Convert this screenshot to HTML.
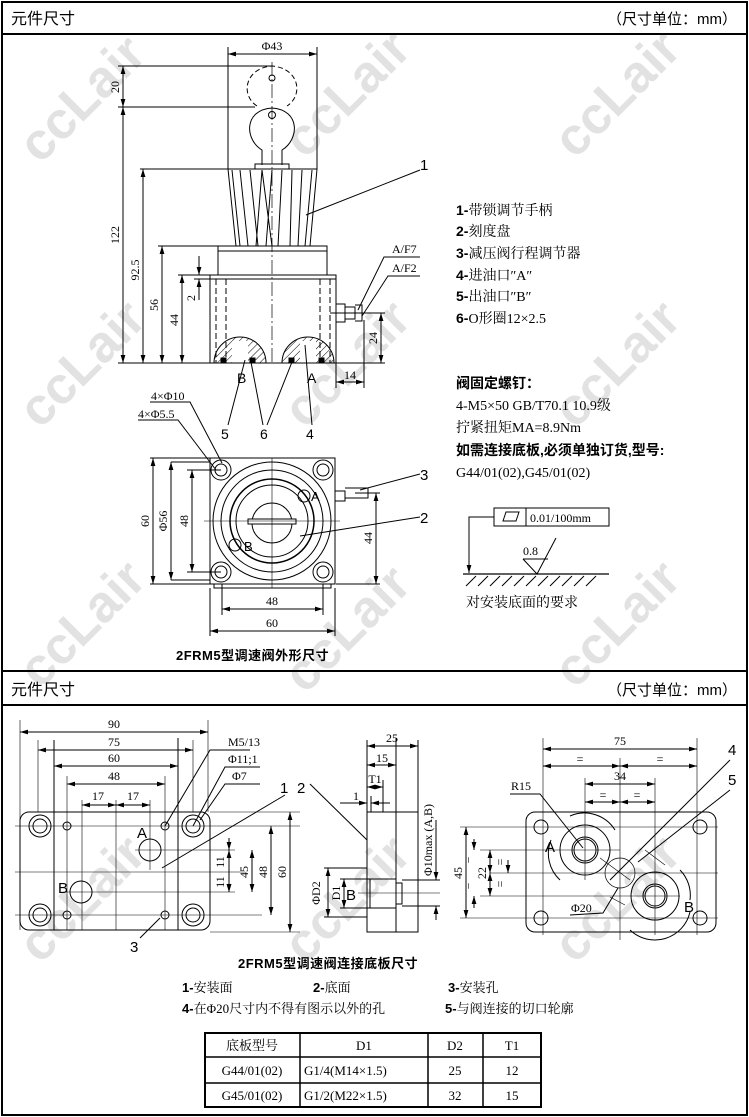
<!DOCTYPE html>
<html><head><meta charset="utf-8"><style>
html,body{margin:0;padding:0;background:#fff}
svg{display:block}
text{font-family:"Liberation Serif","Noto Serif CJK SC",serif;fill:#000}
.s,.s text{font-family:"Liberation Sans","Noto Sans CJK SC",sans-serif}
.wm{font-family:"Liberation Sans",sans-serif;font-weight:bold;font-size:52px;fill:#e2e2e2}
</style></head><body>
<svg width="749" height="1117" viewBox="0 0 749 1117" xmlns="http://www.w3.org/2000/svg">
<defs>
<marker id="ar" viewBox="0 0 10 6" refX="10" refY="3" markerWidth="8" markerHeight="5" orient="auto-start-reverse"><path d="M0,0L10,3L0,6z" fill="#000"/></marker>
<pattern id="hatch" width="5" height="5" patternUnits="userSpaceOnUse" patternTransform="rotate(45)"><line x1="0" y1="0" x2="0" y2="5" stroke="#000" stroke-width="1"/></pattern>
</defs>
<g>
<text class="wm" transform="translate(40,165) rotate(-45)">ccLair</text>
<text class="wm" transform="translate(305,160) rotate(-45)">ccLair</text>
<text class="wm" transform="translate(575,160) rotate(-45)">ccLair</text>
<text class="wm" transform="translate(40,430) rotate(-45)">ccLair</text>
<text class="wm" transform="translate(305,430) rotate(-45)">ccLair</text>
<text class="wm" transform="translate(575,430) rotate(-45)">ccLair</text>
<text class="wm" transform="translate(40,690) rotate(-45)">ccLair</text>
<text class="wm" transform="translate(305,695) rotate(-45)">ccLair</text>
<text class="wm" transform="translate(575,690) rotate(-45)">ccLair</text>
<text class="wm" transform="translate(40,965) rotate(-45)">ccLair</text>
<text class="wm" transform="translate(305,965) rotate(-45)">ccLair</text>
<text class="wm" transform="translate(575,965) rotate(-45)">ccLair</text>
</g>
<rect x="2" y="2" width="745" height="1113" fill="none" stroke="#000" stroke-width="2"/>
<line x1="2" y1="34" x2="747" y2="34" stroke="#000" stroke-width="2"/>
<line x1="2" y1="671" x2="747" y2="671" stroke="#000" stroke-width="2"/>
<line x1="2" y1="705" x2="747" y2="705" stroke="#000" stroke-width="2"/>
<text class="s" x="11" y="24" font-size="16">元件尺寸</text>
<text class="s" x="737" y="24" font-size="15" text-anchor="end">（尺寸单位：mm）</text>
<text class="s" x="11" y="695" font-size="16">元件尺寸</text>
<text class="s" x="737" y="695" font-size="15" text-anchor="end">（尺寸单位：mm）</text>

<g stroke="#000" fill="none" stroke-width="1">
<line x1="228" y1="47" x2="228" y2="169"/><line x1="317" y1="47" x2="317" y2="169"/>
<line x1="228" y1="54" x2="317" y2="54" marker-start="url(#ar)" marker-end="url(#ar)"/>
<line x1="272" y1="62" x2="272" y2="365" stroke-dasharray="14,3,2,3" stroke-width="0.7"/>
<path d="M257,106 C240,95 245,68 272,66 C299,68 304,95 287,106" stroke-dasharray="5,3"/>
<circle cx="272" cy="78" r="3"/>
<path d="M262,165 L262,150 C245,140 243,110 272,108 C301,110 299,140 282,150 L282,165"/>
<circle cx="272" cy="115" r="3.5"/>
<rect x="255" y="164" width="34" height="5"/>
<path d="M228,169 L317,169 L310,246 L236,246 Z"/>
<path d="M232,170 L240,246 M240,170 L248,246 M250,170 L258,246 M262,170 L256,246 M272,170 L266,246 M282,170 L278,246 M292,170 L290,246 M302,170 L298,246 M312,170 L305,246 M262,170 L272,246"/>
<rect x="218" y="246" width="109" height="29"/>
<line x1="218" y1="251" x2="327" y2="251"/>
<rect x="210" y="275" width="126" height="88"/>
<line x1="210" y1="279" x2="336" y2="279"/>
<line x1="216" y1="279" x2="216" y2="363" stroke-dasharray="6,3"/>
<line x1="226" y1="279" x2="226" y2="363" stroke-dasharray="6,3"/>
<line x1="320" y1="279" x2="320" y2="363" stroke-dasharray="6,3"/>
<line x1="330" y1="279" x2="330" y2="363" stroke-dasharray="6,3"/>
<path d="M214,363 A26,26 0 0 1 266,363 Z" fill="url(#hatch)"/>
<path d="M282,363 A26,26 0 0 1 334,363 Z" fill="url(#hatch)"/>
<rect x="232" y="341" width="16" height="22" fill="#fff" stroke="none"/>
<rect x="300" y="341" width="16" height="22" fill="#fff" stroke="none"/>
<rect x="221" y="358" width="5" height="5" fill="#000"/><rect x="250" y="358" width="5" height="5" fill="#000"/>
<rect x="289" y="358" width="5" height="5" fill="#000"/><rect x="319" y="358" width="5" height="5" fill="#000"/>
<path d="M336,304 L345,304 L345,322 L336,322 M345,307 L355,307 L355,319 L345,319 M355,305 L362,305 L362,321 L355,321"/>
<line x1="118" y1="66" x2="272" y2="66"/><line x1="118" y1="107" x2="255" y2="107"/>
<line x1="140" y1="169" x2="228" y2="169"/><line x1="158" y1="246" x2="218" y2="246"/>
<line x1="178" y1="275" x2="210" y2="275"/><line x1="118" y1="363" x2="385" y2="363"/>
<line x1="123" y1="66" x2="123" y2="107" marker-start="url(#ar)" marker-end="url(#ar)"/>
<line x1="123" y1="107" x2="123" y2="363" marker-start="url(#ar)" marker-end="url(#ar)"/>
<line x1="143" y1="169" x2="143" y2="363" marker-start="url(#ar)" marker-end="url(#ar)"/>
<line x1="162" y1="246" x2="162" y2="363" marker-start="url(#ar)" marker-end="url(#ar)"/>
<line x1="182" y1="275" x2="182" y2="363" marker-start="url(#ar)" marker-end="url(#ar)"/>
<line x1="199" y1="256" x2="199" y2="275" marker-end="url(#ar)"/><line x1="199" y1="279" x2="199" y2="300" marker-start="url(#ar)"/>
<line x1="194" y1="279" x2="210" y2="279"/>
<line x1="330" y1="313" x2="385" y2="313"/>
<line x1="381" y1="313" x2="381" y2="363" marker-start="url(#ar)" marker-end="url(#ar)"/>
<line x1="336" y1="363" x2="336" y2="388"/><line x1="364" y1="320" x2="364" y2="388"/>
<line x1="336" y1="382" x2="364" y2="382" marker-start="url(#ar)" marker-end="url(#ar)"/>
<path d="M358,310 L384,257 L420,257 M362,316 L388,276 L420,276"/>
<path d="M306,215 L420,170"/>
<path d="M245,360 L228,425 M251,362 L263,425 M292,362 L267,425 M305,345 L312,425"/>
<path d="M150,402 L190,402 L222,463 M138,420 L178,420 L216,470"/>

<rect x="210" y="458" width="125" height="126"/>
<rect x="214" y="584" width="117" height="4"/>
<circle cx="221" cy="470" r="10"/><circle cx="221" cy="470" r="6"/>
<circle cx="323" cy="470" r="10"/><circle cx="323" cy="470" r="6"/>
<circle cx="221" cy="572" r="10"/><circle cx="221" cy="572" r="6"/>
<circle cx="323" cy="572" r="10"/><circle cx="323" cy="572" r="6"/>
<circle cx="272" cy="521" r="59"/><circle cx="272" cy="521" r="51"/>
<circle cx="272" cy="521" r="42" stroke-width="1.5"/>
<circle cx="272" cy="521" r="36"/>
<circle cx="272" cy="523" r="20"/>
<rect x="248" y="519" width="48" height="5" fill="#fff"/>
<line x1="204" y1="521" x2="340" y2="521" stroke-width="0.6"/>
<line x1="272" y1="458" x2="272" y2="588" stroke-width="0.6"/>
<path d="M335,491 L345,491 L345,501 L335,501 M345,488 L368,488 L368,498 L345,498"/>
<circle cx="304" cy="496" r="6"/><circle cx="235" cy="545" r="6"/>
<line x1="210" y1="584" x2="150" y2="584"/><line x1="210" y1="458" x2="150" y2="458"/>
<line x1="171" y1="462" x2="210" y2="462"/><line x1="171" y1="580" x2="210" y2="580"/>
<line x1="187" y1="470" x2="221" y2="470"/><line x1="187" y1="572" x2="221" y2="572"/>
<line x1="153" y1="458" x2="153" y2="584" marker-start="url(#ar)" marker-end="url(#ar)"/>
<line x1="171" y1="462" x2="171" y2="580" marker-start="url(#ar)" marker-end="url(#ar)"/>
<line x1="192" y1="470" x2="192" y2="572" marker-start="url(#ar)" marker-end="url(#ar)"/>
<line x1="336" y1="584" x2="380" y2="584"/><line x1="355" y1="493" x2="380" y2="493"/>
<line x1="376" y1="493" x2="376" y2="584" marker-start="url(#ar)" marker-end="url(#ar)"/>
<line x1="222" y1="584" x2="222" y2="615"/><line x1="323" y1="584" x2="323" y2="615"/>
<line x1="210" y1="588" x2="210" y2="636"/><line x1="335" y1="588" x2="335" y2="636"/>
<line x1="222" y1="609" x2="323" y2="609" marker-start="url(#ar)" marker-end="url(#ar)"/>
<line x1="210" y1="631" x2="335" y2="631" marker-start="url(#ar)" marker-end="url(#ar)"/>
<path d="M360,490 L420,474 M300,536 L420,517"/>

<rect x="494" y="508" width="115" height="18"/><line x1="526" y1="508" x2="526" y2="526"/>
<path d="M503,521 L506,512 L519,512 L516,521 Z"/>
<path d="M494,517 L469,517 L469,573" marker-end="url(#ar)"/>
<line x1="463" y1="574" x2="609" y2="574" stroke-width="1.3"/>
<path d="M466,586 L476,576 M478,586 L488,576 M490,586 L500,576 M502,586 L512,576 M514,586 L524,576 M526,586 L536,576 M538,586 L548,576 M550,586 L560,576 M562,586 L572,576 M574,586 L584,576 M586,586 L596,576"/>
<path d="M523,559 L537,574 L556,538 M523,559 L548,559"/>

<rect x="20" y="812" width="190" height="118" rx="9"/>
<line x1="54" y1="740" x2="54" y2="930"/><line x1="178" y1="738" x2="178" y2="930"/>
<circle cx="40" cy="826" r="11"/><circle cx="40" cy="826" r="7"/>
<circle cx="193" cy="826" r="11"/><circle cx="193" cy="826" r="7"/>
<circle cx="40" cy="915" r="11"/><circle cx="40" cy="915" r="7"/>
<circle cx="193" cy="915" r="11"/><circle cx="193" cy="915" r="7"/>
<circle cx="67" cy="826" r="4"/><circle cx="165" cy="826" r="4"/>
<circle cx="67" cy="915" r="4"/><circle cx="165" cy="915" r="4"/>
<circle cx="150" cy="850" r="11"/><circle cx="81" cy="892" r="11"/>
<g stroke-width="0.6">
<line x1="20" y1="720" x2="20" y2="930"/><line x1="208" y1="720" x2="208" y2="812"/>
<line x1="38" y1="740" x2="38" y2="812"/><line x1="193" y1="740" x2="193" y2="812"/>
<line x1="67" y1="776" x2="67" y2="930"/><line x1="165" y1="776" x2="165" y2="930"/>
<line x1="82" y1="800" x2="82" y2="930"/><line x1="116" y1="800" x2="116" y2="930"/><line x1="150" y1="800" x2="150" y2="870"/>
<line x1="15" y1="826" x2="300" y2="826"/><line x1="15" y1="915" x2="262" y2="915"/>
<line x1="15" y1="872" x2="245" y2="872"/><line x1="135" y1="850" x2="235" y2="850"/><line x1="66" y1="892" x2="235" y2="892"/>
<line x1="210" y1="812" x2="300" y2="812"/><line x1="210" y1="932" x2="300" y2="932"/>
</g>
<line x1="20" y1="732" x2="208" y2="732" marker-start="url(#ar)" marker-end="url(#ar)"/>
<line x1="38" y1="750" x2="193" y2="750" marker-start="url(#ar)" marker-end="url(#ar)"/>
<line x1="54" y1="766" x2="178" y2="766" marker-start="url(#ar)" marker-end="url(#ar)"/>
<line x1="67" y1="784" x2="165" y2="784" marker-start="url(#ar)" marker-end="url(#ar)"/>
<line x1="82" y1="805" x2="116" y2="805" marker-start="url(#ar)" marker-end="url(#ar)"/>
<line x1="116" y1="805" x2="150" y2="805" marker-start="url(#ar)" marker-end="url(#ar)"/>
<line x1="229" y1="838" x2="229" y2="850" marker-end="url(#ar)"/><line x1="229" y1="872" x2="229" y2="850" marker-end="url(#ar)"/>
<line x1="229" y1="884" x2="229" y2="892" marker-end="url(#ar)"/><line x1="229" y1="872" x2="229" y2="892" marker-end="url(#ar)"/>
<line x1="252" y1="850" x2="252" y2="892" marker-start="url(#ar)" marker-end="url(#ar)"/>
<line x1="271" y1="826" x2="271" y2="915" marker-start="url(#ar)" marker-end="url(#ar)"/>
<line x1="290" y1="812" x2="290" y2="932" marker-start="url(#ar)" marker-end="url(#ar)"/>
<path d="M165,826 L210,750 L250,750 M193,826 L225,767 L260,767 M200,820 L225,784 L260,784"/>
<path d="M162,868 L285,795 M140,938 L160,918"/>

<rect x="367" y="812" width="51" height="120"/>
<line x1="396" y1="738" x2="396" y2="932"/>
<line x1="367" y1="740" x2="367" y2="812"/><line x1="418" y1="740" x2="418" y2="812"/><line x1="383" y1="780" x2="383" y2="812"/><line x1="371" y1="796" x2="371" y2="812"/>
<line x1="367" y1="746" x2="418" y2="746" marker-start="url(#ar)" marker-end="url(#ar)"/>
<line x1="367" y1="765" x2="396" y2="765" marker-start="url(#ar)" marker-end="url(#ar)"/>
<line x1="367" y1="787" x2="383" y2="787" marker-start="url(#ar)" marker-end="url(#ar)"/>
<line x1="340" y1="803" x2="367" y2="803" marker-end="url(#ar)"/><line x1="390" y1="803" x2="371" y2="803" marker-end="url(#ar)"/>
<rect x="370" y="879" width="26" height="29"/>
<rect x="396" y="883" width="6" height="21"/>
<line x1="324" y1="868" x2="367" y2="868"/><line x1="324" y1="917" x2="367" y2="917"/>
<line x1="340" y1="879" x2="370" y2="879"/><line x1="340" y1="908" x2="370" y2="908"/>
<line x1="358" y1="893" x2="440" y2="893" stroke-width="0.6"/>
<line x1="402" y1="880" x2="440" y2="880"/><line x1="402" y1="906" x2="440" y2="906"/>
<line x1="328" y1="868" x2="328" y2="917" marker-start="url(#ar)" marker-end="url(#ar)"/>
<line x1="344" y1="879" x2="344" y2="908" marker-start="url(#ar)" marker-end="url(#ar)"/>
<line x1="436" y1="820" x2="436" y2="880" marker-end="url(#ar)"/><line x1="436" y1="920" x2="436" y2="906" marker-end="url(#ar)"/>
<path d="M310,784 L367,840"/>

<rect x="526" y="812" width="190" height="120" rx="9"/>
<circle cx="541" cy="827" r="7"/><circle cx="700" cy="827" r="7"/>
<circle cx="541" cy="918" r="7"/><circle cx="700" cy="918" r="7"/>
<circle cx="585" cy="850" r="25"/><circle cx="585" cy="850" r="13"/><circle cx="585" cy="850" r="11"/>
<circle cx="655" cy="896" r="24"/><circle cx="655" cy="896" r="12"/><circle cx="655" cy="896" r="10"/>
<path d="M570,816 A36,36 0 0 1 615,830 M560,880 A36,36 0 0 1 551,840 M630,930 A36,36 0 0 0 690,912 M680,870 A36,36 0 0 1 690,900"/>
<circle cx="620" cy="873" r="15" stroke-width="0.7"/>
<g stroke-width="0.6">
<line x1="543" y1="738" x2="543" y2="935"/><line x1="697" y1="738" x2="697" y2="935"/>
<line x1="620" y1="758" x2="620" y2="940"/><line x1="585" y1="778" x2="585" y2="880"/><line x1="655" y1="778" x2="655" y2="935"/>
<line x1="460" y1="827" x2="718" y2="827"/><line x1="460" y1="918" x2="718" y2="918"/>
<line x1="490" y1="873" x2="718" y2="873"/><line x1="480" y1="850" x2="620" y2="850"/><line x1="480" y1="896" x2="680" y2="896"/>
<path d="M600,858 L630,880 M645,850 L665,865 M610,897 L625,905"/>
</g>
<line x1="543" y1="749" x2="697" y2="749" marker-start="url(#ar)" marker-end="url(#ar)"/>
<line x1="543" y1="766" x2="620" y2="766" marker-start="url(#ar)" marker-end="url(#ar)"/>
<line x1="620" y1="766" x2="697" y2="766" marker-start="url(#ar)" marker-end="url(#ar)"/>
<line x1="585" y1="784" x2="655" y2="784" marker-start="url(#ar)" marker-end="url(#ar)"/>
<line x1="585" y1="802" x2="620" y2="802" marker-start="url(#ar)" marker-end="url(#ar)"/>
<line x1="620" y1="802" x2="655" y2="802" marker-start="url(#ar)" marker-end="url(#ar)"/>
<line x1="466" y1="827" x2="466" y2="918" marker-start="url(#ar)" marker-end="url(#ar)"/>
<line x1="474" y1="839" x2="474" y2="850" marker-end="url(#ar)"/><line x1="474" y1="908" x2="474" y2="896" marker-end="url(#ar)"/>
<line x1="490" y1="850" x2="490" y2="873" marker-start="url(#ar)" marker-end="url(#ar)"/>
<line x1="490" y1="873" x2="490" y2="896" marker-start="url(#ar)" marker-end="url(#ar)"/>
<line x1="508" y1="860" x2="508" y2="873" marker-end="url(#ar)"/>
<path d="M510,794 L540,794 L583,848 M570,915 L603,913 L618,888 M610,880 L730,760 M638,862 L730,790"/>

<rect x="205" y="1033" width="336" height="74" stroke-width="2"/>
<line x1="205" y1="1057" x2="541" y2="1057" stroke-width="1.5"/>
<line x1="205" y1="1083" x2="541" y2="1083" stroke-width="1.5"/>
<line x1="300" y1="1033" x2="300" y2="1107" stroke-width="1.5"/>
<line x1="428" y1="1033" x2="428" y2="1107" stroke-width="1.5"/>
<line x1="483" y1="1033" x2="483" y2="1107" stroke-width="1.5"/>
</g>

<g font-size="12">
<text x="272" y="50" text-anchor="middle">Φ43</text>
<text transform="translate(119,87) rotate(-90)" text-anchor="middle">20</text>
<text transform="translate(119,235) rotate(-90)" text-anchor="middle">122</text>
<text transform="translate(139,270) rotate(-90)" text-anchor="middle">92.5</text>
<text transform="translate(158,305) rotate(-90)" text-anchor="middle">56</text>
<text transform="translate(178,320) rotate(-90)" text-anchor="middle">44</text>
<text transform="translate(195,298) rotate(-90)" text-anchor="middle">2</text>
<text transform="translate(377,338) rotate(-90)" text-anchor="middle">24</text>
<text x="350" y="379" text-anchor="middle">14</text>
<text x="392" y="253">A/F7</text>
<text x="392" y="272">A/F2</text>
<text x="151" y="400">4×Φ10</text>
<text x="138" y="418">4×Φ5.5</text>
<text transform="translate(149,521) rotate(-90)" text-anchor="middle">60</text>
<text transform="translate(167,521) rotate(-90)" text-anchor="middle">Φ56</text>
<text transform="translate(188,521) rotate(-90)" text-anchor="middle">48</text>
<text transform="translate(372,538) rotate(-90)" text-anchor="middle">44</text>
<text x="272" y="605" text-anchor="middle">48</text>
<text x="272" y="627" text-anchor="middle">60</text>
<text x="530" y="522">0.01/100mm</text>
<text x="523" y="555">0.8</text>
</g>
<g class="s" font-size="14">
<text x="420" y="170" font-size="15">1</text>
<text x="420" y="523" font-size="15">2</text>
<text x="420" y="480" font-size="15">3</text>
<text x="237" y="383" font-size="14">B</text>
<text x="307" y="383" font-size="14">A</text>
<text x="221" y="439">5</text><text x="260" y="439">6</text><text x="306" y="439">4</text>
<text x="311" y="501" font-size="13">A</text>
<text x="244" y="551" font-size="13">B</text>
</g>
<g font-size="14">
<text x="456" y="215"><tspan class="s" font-weight="bold">1-</tspan>带锁调节手柄</text>
<text x="456" y="236"><tspan class="s" font-weight="bold">2-</tspan>刻度盘</text>
<text x="456" y="258"><tspan class="s" font-weight="bold">3-</tspan>减压阀行程调节器</text>
<text x="456" y="280"><tspan class="s" font-weight="bold">4-</tspan>进油口″A″</text>
<text x="456" y="301"><tspan class="s" font-weight="bold">5-</tspan>出油口″B″</text>
<text x="456" y="323"><tspan class="s" font-weight="bold">6-</tspan>O形圈12×2.5</text>
<text x="456" y="388" class="s" font-weight="bold">阀固定螺钉：</text>
<text x="456" y="410">4-M5×50  GB/T70.1 10.9级</text>
<text x="456" y="432">拧紧扭矩MA=8.9Nm</text>
<text x="456" y="455" class="s" font-weight="bold">如需连接底板,必须单独订货,型号:</text>
<text x="456" y="477">G44/01(02),G45/01(02)</text>
<text x="466" y="607">对安装底面的要求</text>
</g>
<text class="s" x="176" y="660" font-size="13" font-weight="bold" letter-spacing="0.5">2FRM5型调速阀外形尺寸</text>

<g font-size="12">
<text x="114" y="728" text-anchor="middle">90</text>
<text x="114" y="746" text-anchor="middle">75</text>
<text x="114" y="762" text-anchor="middle">60</text>
<text x="114" y="780" text-anchor="middle">48</text>
<text x="98" y="800" text-anchor="middle">17</text>
<text x="133" y="800" text-anchor="middle">17</text>
<text x="228" y="746">M5/13</text>
<text x="228" y="763">Φ11;1</text>
<text x="232" y="780">Φ7</text>
<text transform="translate(224,862) rotate(-90)" text-anchor="middle">11</text>
<text transform="translate(224,882) rotate(-90)" text-anchor="middle">11</text>
<text transform="translate(248,872) rotate(-90)" text-anchor="middle">45</text>
<text transform="translate(267,872) rotate(-90)" text-anchor="middle">48</text>
<text transform="translate(286,872) rotate(-90)" text-anchor="middle">60</text>
<text x="392" y="742" text-anchor="middle">25</text>
<text x="382" y="762" text-anchor="middle">15</text>
<text x="375" y="783" text-anchor="middle">T1</text>
<text x="356" y="800" text-anchor="middle">1</text>
<text transform="translate(432,840) rotate(-90)" text-anchor="middle">Φ10max (A,B)</text>
<text transform="translate(320,893) rotate(-90)" text-anchor="middle">ΦD2</text>
<text transform="translate(340,893) rotate(-90)" text-anchor="middle">D1</text>
<text x="620" y="745" text-anchor="middle">75</text>
<text x="580" y="763" text-anchor="middle">=</text>
<text x="660" y="763" text-anchor="middle">=</text>
<text x="620" y="780" text-anchor="middle">34</text>
<text x="603" y="799" text-anchor="middle">=</text>
<text x="637" y="799" text-anchor="middle">=</text>
<text x="511" y="790">R15</text>
<text x="571" y="912">Φ20</text>
<text transform="translate(462,873) rotate(-90)" text-anchor="middle">45</text>
<text transform="translate(471,860) rotate(-90)" text-anchor="middle">=</text>
<text transform="translate(471,886) rotate(-90)" text-anchor="middle">=</text>
<text transform="translate(486,873) rotate(-90)" text-anchor="middle">22</text>
<text transform="translate(504,862) rotate(-90)" text-anchor="middle">=</text>
<text transform="translate(504,884) rotate(-90)" text-anchor="middle">=</text>
</g>
<g class="s" font-size="15">
<text x="137" y="838">A</text>
<text x="58" y="893">B</text>
<text x="280" y="793">1</text><text x="297" y="793">2</text>
<text x="130" y="952">3</text>
<text x="346" y="900">B</text>
<text x="545" y="852">A</text>
<text x="684" y="912">B</text>
<text x="728" y="755">4</text>
<text x="728" y="785">5</text>
</g>
<text class="s" x="238" y="968" font-size="13" font-weight="bold" letter-spacing="0.5">2FRM5型调速阀连接底板尺寸</text>
<g font-size="13">
<text x="182" y="992"><tspan class="s" font-weight="bold">1-</tspan>安装面</text>
<text x="313" y="992"><tspan class="s" font-weight="bold">2-</tspan>底面</text>
<text x="448" y="992"><tspan class="s" font-weight="bold">3-</tspan>安装孔</text>
<text x="182" y="1013"><tspan class="s" font-weight="bold">4-</tspan>在Φ20尺寸内不得有图示以外的孔</text>
<text x="445" y="1013"><tspan class="s" font-weight="bold">5-</tspan>与阀连接的切口轮廓</text>
<text x="252" y="1050" text-anchor="middle">底板型号</text>
<text x="364" y="1050" text-anchor="middle">D1</text>
<text x="455" y="1050" text-anchor="middle">D2</text>
<text x="512" y="1050" text-anchor="middle">T1</text>
<text x="252" y="1075" text-anchor="middle">G44/01(02)</text>
<text x="304" y="1075">G1/4(M14×1.5)</text>
<text x="455" y="1075" text-anchor="middle">25</text>
<text x="512" y="1075" text-anchor="middle">12</text>
<text x="252" y="1100" text-anchor="middle">G45/01(02)</text>
<text x="304" y="1100">G1/2(M22×1.5)</text>
<text x="455" y="1100" text-anchor="middle">32</text>
<text x="512" y="1100" text-anchor="middle">15</text>
</g>
</svg>
</body></html>
